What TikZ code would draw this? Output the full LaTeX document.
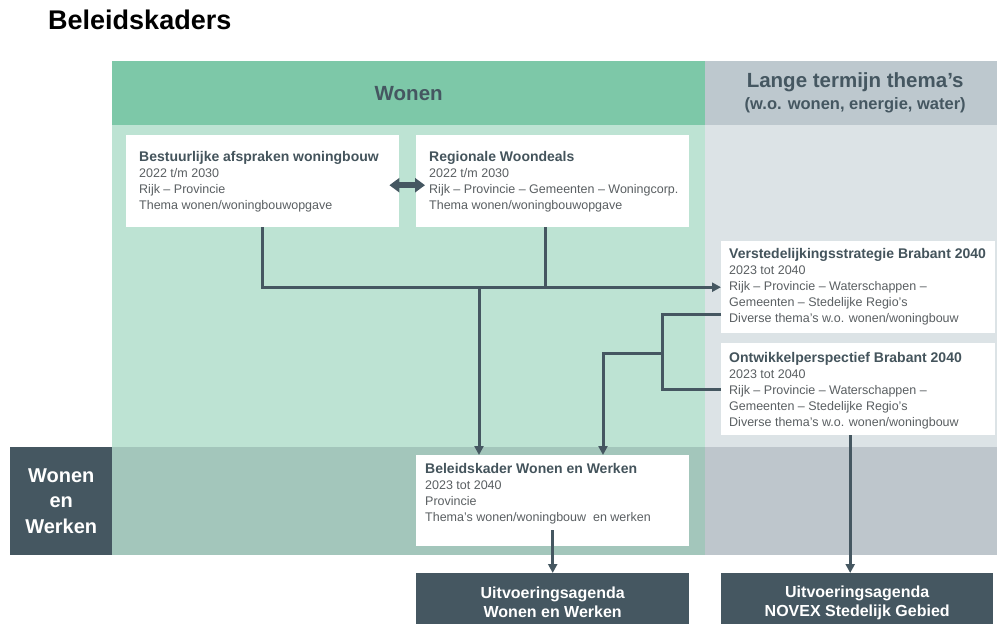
\documentclass[tikz,border=0pt]{standalone}
\usepackage{fontspec}
\setmainfont{Liberation Sans}
\usetikzlibrary{arrows.meta}
\definecolor{hdrgreen}{HTML}{7DC8A8}
\definecolor{bodygreen}{HTML}{BDE3D3}
\definecolor{bandgreen}{HTML}{A3C6BB}
\definecolor{hdrgray}{HTML}{BDC8CE}
\definecolor{bodygray}{HTML}{DCE3E6}
\definecolor{bandgray}{HTML}{BEC6CC}
\definecolor{dark}{HTML}{455761}
\definecolor{tcol}{HTML}{44545C}
\definecolor{bcol}{HTML}{5A5F62}
\begin{document}
\begin{tikzpicture}[x=1pt,y=-1pt,
  hdr/.style={anchor=north west, inner sep=0, text=dark, align=center, font=\bfseries\fontsize{20.5}{22}\selectfont},
  wbox/.style={fill=white, draw=none, anchor=north west, inner sep=0, minimum height=92},
  txt/.style={anchor=north west, inner sep=0, align=left, text=bcol, font=\fontsize{12.5}{16}\selectfont},
  dbox/.style={fill=dark, text=white, anchor=north west, inner sep=0, align=center, font=\bfseries\fontsize{16}{19}\selectfont},
  conn/.style={draw=dark, line width=3pt},
  arr/.style={-{Triangle[length=9pt,width=9pt]}}
]
\useasboundingbox (0,0) rectangle (997,624);
\newcommand{\bt}[1]{{\color{tcol}\bfseries\fontsize{14}{16}\selectfont #1}}

% title
\node[anchor=base west, inner sep=0, font=\bfseries\fontsize{27}{30}\selectfont] (title) at (48,29) {Beleidskaders};

% headers
\node[hdr, fill=hdrgreen, minimum width=593, minimum height=64] (hw) at (112,61) {Wonen};
\node[hdr, fill=hdrgray, minimum width=292, minimum height=64] (hl) at (705,61)
  {\hspace*{8pt}Lange termijn thema’s\\\hspace*{8pt}{\fontsize{16.5}{20}\selectfont (w.o. wonen, energie, water)}};

% body areas
\fill[bodygreen] (112,125) rectangle (705,447);
\fill[bodygray] (705,125) rectangle (997,447);
\fill[bandgreen] (112,447) rectangle (705,555);
\fill[bandgray] (705,447) rectangle (997,555);

% row label
\node[dbox, minimum width=102, minimum height=108, font=\bfseries\fontsize{20}{25.5}\selectfont] (lab) at (10,447) {Wonen\\en\\Werken};

% white boxes
\node[wbox, minimum width=273] (b1) at (126,135) {};
\node[wbox, minimum width=273] (b2) at (416,135) {};
\node[wbox, minimum width=274] (b3) at (721,241) {};
\node[wbox, minimum width=274] (b4) at (721,343) {};
\node[wbox, minimum width=273, minimum height=91] (b5) at (416,455) {};

\node[txt] (t1) at (139,151) {\bt{Bestuurlijke afspraken woningbouw}\\2022 t/m 2030\\Rijk – Provincie\\Thema wonen/woningbouwopgave};
\node[txt] (t2) at (429,151) {\bt{Regionale Woondeals}\\2022 t/m 2030\\Rijk – Provincie – Gemeenten – Woningcorp.\\Thema wonen/woningbouwopgave};
\node[txt] (t3) at (729,248) {\bt{Verstedelijkingsstrategie Brabant 2040}\\2023 tot 2040\\Rijk – Provincie – Waterschappen –\\Gemeenten – Stedelijke Regio’s\\Diverse thema’s w.o. wonen/woningbouw};
\node[txt] (t4) at (729,352) {\bt{Ontwikkelperspectief Brabant 2040}\\2023 tot 2040\\Rijk – Provincie – Waterschappen –\\Gemeenten – Stedelijke Regio’s\\Diverse thema’s w.o. wonen/woningbouw};
\node[txt] (t5) at (425,463) {\bt{Beleidskader Wonen en Werken}\\2023 tot 2040\\Provincie\\Thema’s wonen/woningbouw\ \ en werken};

% dark boxes
\node[dbox, minimum width=273, minimum height=59] (u1) at (416,573) {Uitvoeringsagenda\\Wonen en Werken};
\node[dbox, minimum width=272, minimum height=59] (u2) at (721,573) {Uitvoeringsagenda\\NOVEX Stedelijk Gebied};

% connectors
\draw[dark, line width=6pt, {Triangle[length=10pt,width=14pt]}-{Triangle[length=10pt,width=14pt]}, shorten <=-10pt, shorten >=-9pt]
  ([yshift=-4pt]b1.east) -- ([yshift=-4pt]b2.west);

\draw[conn, arr] (b1.south) |- (b3.west);
\draw[conn] ([xshift=-7pt]b2.south) -- ([xshift=-7pt]b2.south |- b3.west);
\coordinate (ja) at (479,287);
\draw[conn, arr] (ja) -- (ja |- b5.north);

\coordinate (k) at (662,353);
\coordinate (k2) at (603,353);
\draw[conn] ([yshift=-27pt]b3.west) -| (k) |- (b4.west);
\draw[conn, arr] (k) -- (k2) -- (k2 |- b5.north);

\draw[conn, arr] ([yshift=16pt]b5.south) -- (u1.north);
\draw[conn, arr] ([xshift=-8pt]b4.south) -- ([xshift=-8pt]b4.south |- u2.north);
\end{tikzpicture}
\end{document}
